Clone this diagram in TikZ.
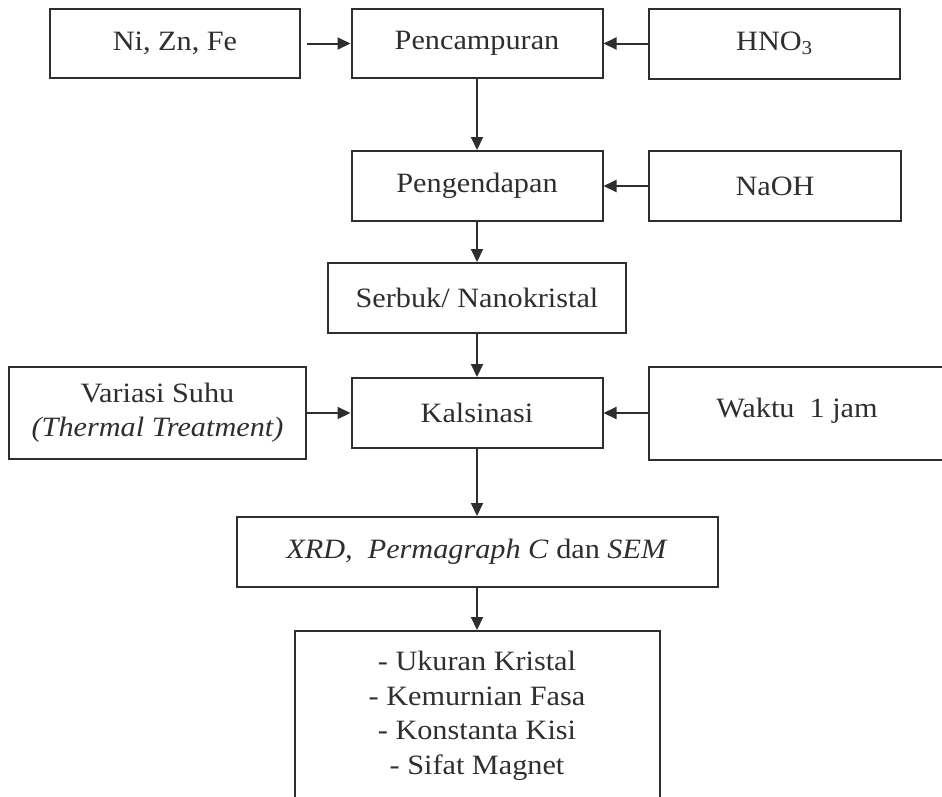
\documentclass[tikz,border=0pt]{standalone}
\usepackage{fontspec}
\setmainfont{Liberation Serif}[FakeStretch=1.08]
\usetikzlibrary{arrows.meta}
\definecolor{ink}{HTML}{2E2E2E}
\begin{document}
\begin{tikzpicture}[x=1pt,y=-1pt,
  box/.style={draw=ink, line width=2pt, rectangle, inner sep=0pt, text=ink,
    font=\fontsize{28}{34.5}\selectfont, align=center},
  arr/.style={draw=ink, line width=2pt, -{Triangle[length=13pt,width=12pt]}}]
\useasboundingbox (0,0) rectangle (942,796);
\node[box, minimum width=250pt, minimum height=69pt] (ni) at (175,43.5) {Ni, Zn, Fe};
\node[box, minimum width=251pt, minimum height=69pt] (penc) at (477,43.5) {Pencampuran};
\node[box, minimum width=251pt, minimum height=70pt] (hno) at (774.5,43.5) {HNO\textsubscript{3}};
\node[box, minimum width=251pt, minimum height=70pt] (peng) at (477,186) {Pengendapan};
\node[box, minimum width=252pt, minimum height=70pt] (naoh) at (775,186) {NaOH};
\node[box, minimum width=298pt, minimum height=70pt] (serbuk) at (477,298) {Serbuk/ Nanokristal};
\node[box, minimum width=297pt, minimum height=92pt] (variasi) at (157.5,413) {Variasi Suhu\\\textit{(Thermal Treatment)}};
\node[box, minimum width=251pt, minimum height=70pt] (kals) at (477,413) {Kalsinasi};
\node[box, minimum width=296pt, minimum height=93pt] (waktu) at (797,413) {\raisebox{10pt}{Waktu~~1 jam}};
\node[box, minimum width=481pt, minimum height=70pt] (xrd) at (477,552) {\textit{XRD,~~Permagraph C} dan \textit{SEM}};
\node[box, minimum width=365pt, minimum height=170pt] (final) at (477,716) {- Ukuran Kristal\\- Kemurnian Fasa\\- Konstanta Kisi\\- Sifat Magnet};
\draw[arr, shorten <=6pt] (ni) -- (penc);
\draw[arr] (hno) -- (penc);
\draw[arr] (penc) -- (peng);
\draw[arr] (naoh) -- (peng);
\draw[arr] (peng) -- (serbuk);
\draw[arr] (serbuk) -- (kals);
\draw[arr] (variasi) -- (kals);
\draw[arr] (waktu) -- (kals);
\draw[arr] (kals) -- (xrd);
\draw[arr] (xrd) -- (final);
\end{tikzpicture}
\end{document}
